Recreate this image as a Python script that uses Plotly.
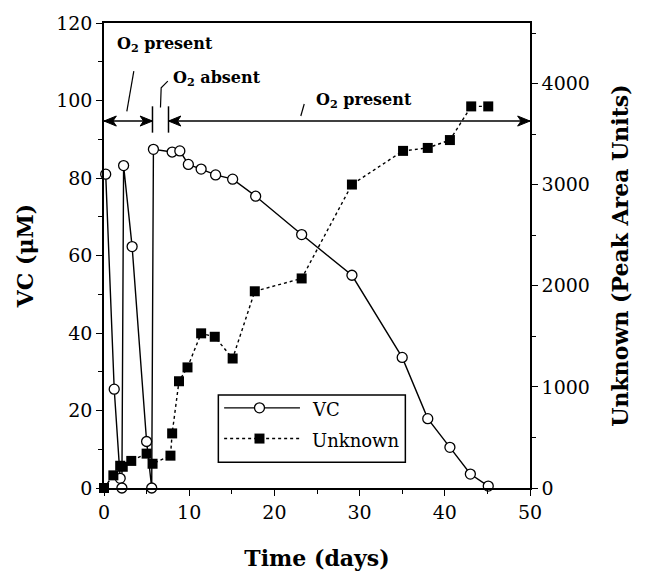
import plotly.graph_objects as go

# ---- data ----
vc_time = [0.2, 1.2, 1.9, 2.1, 2.3, 3.3, 5.0, 5.6, 5.8, 8.0, 8.9, 9.9, 11.4, 13.1,
           15.1, 17.8, 23.2, 29.1, 35.0, 38.0, 40.6, 43.0, 45.1]
vc_values = [81.0, 25.5, 2.5, 0.0, 83.2, 62.3, 12.0, 0.0, 87.4, 86.7, 87.0, 83.5, 82.3,
             80.8, 79.7, 75.3, 65.4, 54.9, 33.7, 17.9, 10.5, 3.6, 0.5]

unk_time = [0.0, 1.1, 1.9, 2.2, 3.2, 5.0, 5.7, 7.8, 8.0, 8.8, 9.8, 11.4, 13.0, 15.1,
            17.7, 23.2, 29.1, 35.1, 38.0, 40.6, 43.1, 45.1]
unk_values = [0, 125, 220, 210, 268, 340, 240, 320, 540, 1056, 1193, 1530, 1496, 1281,
              1946, 2073, 3002, 3335, 3364, 3442, 3775, 3775]

x_ticks = [0, 10, 20, 30, 40, 50]
y_ticks = [0, 20, 40, 60, 80, 100, 120]
y2_ticks = [0, 1000, 2000, 3000, 4000]

SERIF = "DejaVu Serif"

fig = go.Figure()
fig.add_trace(go.Scatter(
    x=vc_time, y=vc_values, name="VC", mode="lines+markers",
    line=dict(color="black", width=1.4),
    marker=dict(symbol="circle", size=10, color="white", line=dict(color="black", width=1.3)),
    cliponaxis=False, showlegend=False))
fig.add_trace(go.Scatter(
    x=unk_time, y=unk_values, name="Unknown", mode="lines+markers", yaxis="y2",
    line=dict(color="black", width=1.4, dash="dot"),
    marker=dict(symbol="square", size=10, color="black", line=dict(color="black", width=0)),
    cliponaxis=False, showlegend=False))

tickfont = dict(family=SERIF, size=19, color="black")
titlefont = dict(family=SERIF, size=22, color="black")

fig.update_layout(
    width=647, height=588,
    margin=dict(l=104, r=117, t=18, b=100),
    paper_bgcolor="white", plot_bgcolor="white",
    font=dict(family=SERIF, color="black"),
    xaxis=dict(range=[0, 50], tickvals=x_ticks, ticks="outside", ticklen=6, tickwidth=1.3,
               tickcolor="black", showline=True, linecolor="black", linewidth=1.5, mirror=True,
               showgrid=False, zeroline=False, tickfont=tickfont,
               minor=dict(dtick=5, ticks="outside", ticklen=4, tickcolor="black", tickwidth=1.2),
               title=dict(text="<b>Time (days)</b>", font=titlefont, standoff=29)),
    yaxis=dict(range=[0, 120], tickvals=y_ticks, ticks="outside", ticklen=6, tickwidth=1.3,
               tickcolor="black", showline=True, linecolor="black", linewidth=1.5,
               showgrid=False, zeroline=False, tickfont=tickfont,
               minor=dict(dtick=10, ticks="outside", ticklen=4, tickcolor="black", tickwidth=1.2),
               title=dict(text="<b>VC (μM)</b>", font=titlefont, standoff=16)),
    yaxis2=dict(range=[0, 4600], tickvals=y2_ticks, overlaying="y", side="right",
                ticks="outside", ticklen=6, tickwidth=1.3, tickcolor="black",
                showline=True, linecolor="black", linewidth=1.5,
                showgrid=False, zeroline=False, tickfont=tickfont,
                minor=dict(dtick=500, ticks="outside", ticklen=4, tickcolor="black", tickwidth=1.2),
                title=dict(text="<b>Unknown (Peak Area Units)</b>", font=titlefont, standoff=24)),
)

# ---- O2 annotations: double arrows drawn as shapes ----
ARROW_Y = 94.7
SPLIT_A, SPLIT_B = 5.69, 7.57
AH_LEN, AH_NOTCH, AH_HALF = 1.45, 0.4, 1.3   # arrowhead size in axis units


def arrowhead(tip_x, direction):
    d = direction  # +1 points right, -1 points left
    bx = tip_x - d * AH_LEN
    nx = tip_x - d * (AH_LEN - AH_NOTCH)
    return (f"M {tip_x},{ARROW_Y} L {bx},{ARROW_Y + AH_HALF} "
            f"L {nx},{ARROW_Y} L {bx},{ARROW_Y - AH_HALF} Z")


for x0, x1 in [(0.0, SPLIT_A), (SPLIT_B, 50.0)]:
    fig.add_shape(type="line", x0=x0, x1=x1, y0=ARROW_Y, y1=ARROW_Y, xref="x", yref="y",
                  line=dict(color="black", width=1.5))
    fig.add_shape(type="path", path=arrowhead(x0, -1), xref="x", yref="y",
                  fillcolor="black", line=dict(color="black", width=1))
    fig.add_shape(type="path", path=arrowhead(x1, 1), xref="x", yref="y",
                  fillcolor="black", line=dict(color="black", width=1))

for xs in [SPLIT_A, SPLIT_B]:
    fig.add_shape(type="line", x0=xs, x1=xs, y0=91.7, y1=98.5, xref="x", yref="y",
                  line=dict(color="black", width=1.5))

afont = dict(family=SERIF, size=16, color="black")
labels = [
    ("<b>O<sub>2</sub> present</b>", 1.3, 114.4),
    ("<b>O<sub>2</sub> absent</b>", 7.9, 105.7),
    ("<b>O<sub>2</sub> present</b>", 24.6, 100.1),
]
for txt, lx, ly in labels:
    fig.add_annotation(x=lx, y=ly, xref="x", yref="y", text=txt, showarrow=False,
                       xanchor="left", yanchor="middle", font=afont)

# leader lines
fig.add_shape(type="line", x0=3.50, y0=107.6, x1=2.68, y1=97.2, xref="x", yref="y",
              line=dict(color="black", width=1.2))
fig.add_shape(type="path", path="M 7.49,105.0 L 6.71,103.3 L 6.63,98.2", xref="x", yref="y",
              line=dict(color="black", width=1.2))
fig.add_shape(type="line", x0=23.1, y0=96.0, x1=23.5, y1=99.1, xref="x", yref="y",
              line=dict(color="black", width=1.2))

# ---- legend box (drawn) ----
fig.add_shape(type="rect", x0=13.42, x1=35.37, y0=6.64, y1=24.0, xref="x", yref="y",
              line=dict(color="black", width=1.5), fillcolor="white", layer="above")
fig.add_shape(type="line", x0=14.1, x1=23.0, y0=20.68, y1=20.68, xref="x", yref="y",
              line=dict(color="black", width=1.4))
fig.add_shape(type="line", x0=14.1, x1=23.0, y0=12.76, y1=12.76, xref="x", yref="y",
              line=dict(color="black", width=1.4, dash="dot"))
fig.add_shape(type="circle", xref="x", yref="y", xsizemode="pixel", ysizemode="pixel",
              xanchor=18.25, yanchor=20.68, x0=-5, x1=5, y0=-5, y1=5,
              fillcolor="white", line=dict(color="black", width=1.3))
fig.add_shape(type="rect", xref="x", yref="y", xsizemode="pixel", ysizemode="pixel",
              xanchor=18.25, yanchor=12.76, x0=-5, x1=5, y0=-5, y1=5,
              fillcolor="black", line=dict(color="black", width=0))
lfont = dict(family=SERIF, size=18, color="black")
fig.add_annotation(x=24.2, y=20.2, xref="x", yref="y", text="VC", showarrow=False,
                   xanchor="left", yanchor="middle", font=lfont)
fig.add_annotation(x=24.2, y=12.3, xref="x", yref="y", text="Unknown", showarrow=False,
                   xanchor="left", yanchor="middle", font=lfont)

fig.write_html("out.html")
